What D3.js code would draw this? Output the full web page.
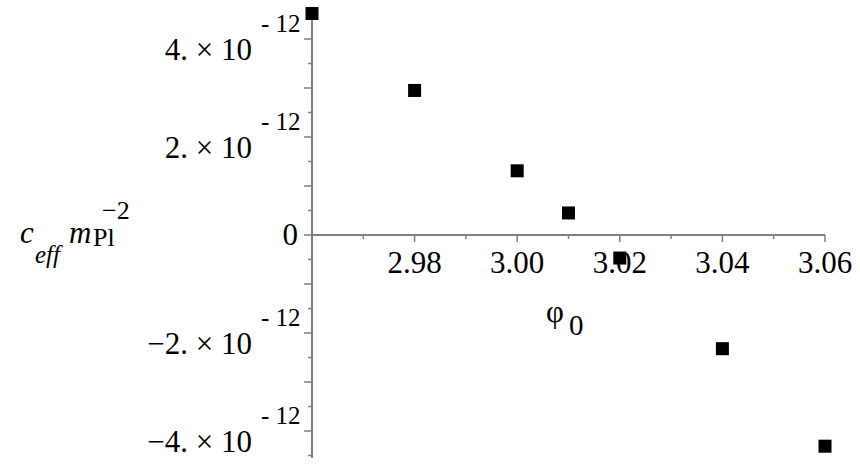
<!DOCTYPE html>
<html>
<head>
<meta charset="utf-8">
<script src="https://cdn.jsdelivr.net/npm/d3@7"></script>
</head>
<body style="margin:0">
<svg width="860" height="469"></svg>
<script>
// Data

const phi0 = [2.96, 2.98, 3.00, 3.01, 3.02, 3.04, 3.06];
const ceff = [4.52e-12, 2.95e-12, 1.31e-12, 0.45e-12, -0.47e-12, -2.32e-12, -4.31e-12];

const xMajorTicks = [2.98, 3.00, 3.02, 3.04, 3.06];
const xMinorTicks = [2.97, 2.99, 3.01, 3.03, 3.05];
const xTickLabels = ["2.98", "3.00", "3.02", "3.04", "3.06"];

const yLabelValues = [-4e-12, -2e-12, 0, 2e-12, 4e-12];
const yLabelMantissa = ["\u22124.", "\u22122.", "0", "2.", "4."];
const yMajorTicks = [-4e-12, -3e-12, -2e-12, -1e-12, 0, 1e-12, 2e-12, 3e-12, 4e-12];
const yMinorTicks = [-4.5e-12, -3.5e-12, -2.5e-12, -1.5e-12, -0.5e-12, 0.5e-12, 1.5e-12, 2.5e-12, 3.5e-12];

// text helper
function label(sel, x, y, size, str) {
    return sel.append("text")
        .attr("x", x).attr("y", y)
        .style("font-family", "Liberation Serif")
        .style("font-size", size + "px")
        .text(str);
}

const svg = d3.select("svg");

const x = d3.scaleLinear()
    .domain([2.96, 3.06])
    .range([312, 825]);

const y = d3.scaleLinear()
    .domain([-5e-12, 5e-12])
    .range([480, -10]);

const axisColor = "#808080";

// x axis
const gx = svg.append("g").attr("transform", `translate(0,${y(0)})`);
gx.append("line")
    .attr("x1", x(2.96)).attr("x2", x(3.06))
    .attr("stroke", axisColor).attr("stroke-width", 2);
gx.selectAll("line.major").data(xMajorTicks).enter().append("line")
    .attr("class", "major")
    .attr("x1", d => x(d)).attr("x2", d => x(d))
    .attr("y1", 0).attr("y2", 7)
    .attr("stroke", axisColor).attr("stroke-width", 1.5);
gx.selectAll("line.minor").data(xMinorTicks).enter().append("line")
    .attr("class", "minor")
    .attr("x1", d => x(d)).attr("x2", d => x(d))
    .attr("y1", 0).attr("y2", 4)
    .attr("stroke", axisColor).attr("stroke-width", 1.5);
xMajorTicks.forEach((d, i) => {
    label(gx, x(d), 38, 31, xTickLabels[i]).attr("text-anchor", "middle");
});

// y axis
const gy = svg.append("g").attr("transform", `translate(${x(2.96)},0)`);
gy.append("line")
    .attr("y1", y(4.5e-12)).attr("y2", y(-4.55e-12))
    .attr("stroke", axisColor).attr("stroke-width", 2);
gy.selectAll("line.major").data(yMajorTicks).enter().append("line")
    .attr("class", "major")
    .attr("y1", d => y(d)).attr("y2", d => y(d))
    .attr("x1", 0).attr("x2", -8)
    .attr("stroke", axisColor).attr("stroke-width", 1.5);
gy.selectAll("line.minor").data(yMinorTicks).enter().append("line")
    .attr("class", "minor")
    .attr("y1", d => y(d)).attr("y2", d => y(d))
    .attr("x1", 0).attr("x2", -4)
    .attr("stroke", axisColor).attr("stroke-width", 1.5);

yLabelValues.forEach((v, i) => {
    if (v === 0) {
        label(gy, -14, y(v) + 10, 31, yLabelMantissa[i]).attr("text-anchor", "end");
        return;
    }
    label(gy, -60, y(v) + 21, 31, yLabelMantissa[i] + " \u00d7 10").attr("text-anchor", "end");
    label(gy, -51, y(v) - 7, 25, "- 12");
});

// axis labels
label(svg, 546, 322, 31, "\u03c6");
label(svg, 569, 335, 29, "0");

label(svg, 20, 243, 31, "c").style("font-style", "italic");
label(svg, 35, 263, 25, "eff").style("font-style", "italic");
label(svg, 69, 243, 31, "m").style("font-style", "italic");
label(svg, 93, 246, 26, "Pl");
label(svg, 102, 219, 26, "\u22122");

// points
svg.selectAll("rect.pt").data(phi0).enter().append("rect")
    .attr("class", "pt")
    .attr("x", d => x(d) - 6.5)
    .attr("y", (d, i) => y(ceff[i]) - 6.5)
    .attr("width", 13).attr("height", 13)
    .attr("fill", "#000");
</script>
</body>
</html>
